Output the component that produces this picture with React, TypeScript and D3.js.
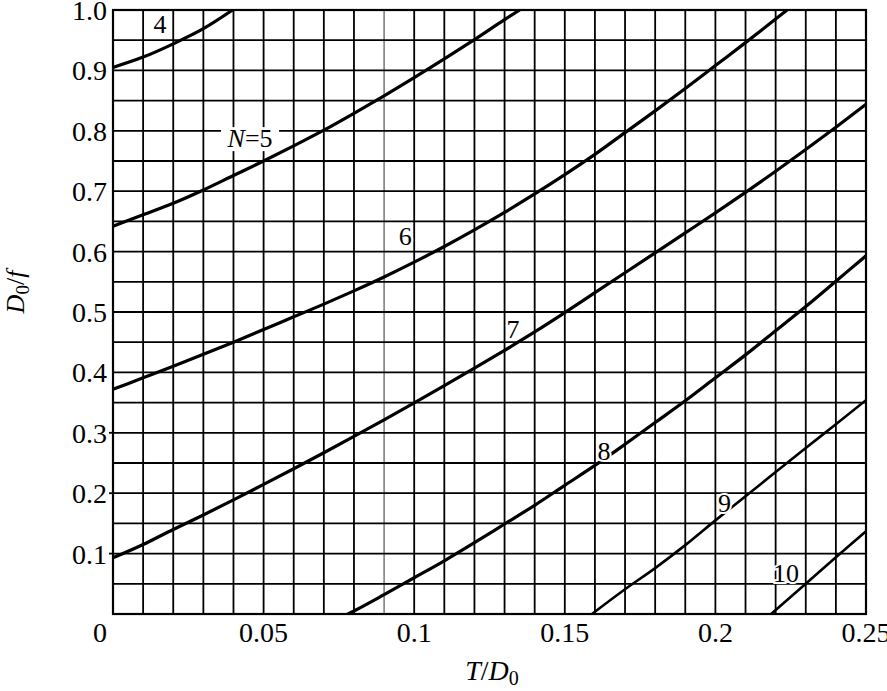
import React from "react";
import * as d3 from "d3";

const W = 887;
const H = 691;

const xTickValues = [0, 0.05, 0.1, 0.15, 0.2, 0.25];
const xTickLabels = ["0", "0.05", "0.1", "0.15", "0.2", "0.25"];
const yTickValues = [0.1, 0.2, 0.3, 0.4, 0.5, 0.6, 0.7, 0.8, 0.9, 1.0];
const yTickLabels = ["0.1", "0.2", "0.3", "0.4", "0.5", "0.6", "0.7", "0.8", "0.9", "1.0"];

const curve4X = [0, 0.01, 0.02, 0.03, 0.0397];
const curve4Y = [0.905, 0.922, 0.944, 0.969, 1.0];

const curve5X = [0, 0.01, 0.02, 0.03, 0.04, 0.05, 0.06, 0.07, 0.08, 0.09, 0.1, 0.11, 0.12, 0.13, 0.135];
const curve5Y = [0.642, 0.661, 0.68, 0.702, 0.726, 0.75, 0.775, 0.801, 0.829, 0.858, 0.888, 0.919, 0.951, 0.984, 1.0];

const curve6X = [0, 0.01, 0.02, 0.03, 0.04, 0.05, 0.06, 0.07, 0.08, 0.09, 0.1, 0.11, 0.12, 0.13, 0.14, 0.15, 0.16, 0.17, 0.18, 0.19, 0.2, 0.21, 0.22, 0.2238];
const curve6Y = [0.372, 0.391, 0.41, 0.43, 0.45, 0.471, 0.492, 0.513, 0.535, 0.558, 0.5825, 0.6085, 0.636, 0.665, 0.6955, 0.7275, 0.761, 0.797, 0.833, 0.87, 0.908, 0.946, 0.985, 1.0];

const curve7X = [0, 0.01, 0.02, 0.03, 0.04, 0.05, 0.06, 0.07, 0.08, 0.09, 0.1, 0.11, 0.12, 0.13, 0.14, 0.15, 0.16, 0.17, 0.18, 0.19, 0.2, 0.21, 0.22, 0.23, 0.24, 0.25];
const curve7Y = [0.093, 0.115, 0.14, 0.164, 0.189, 0.2145, 0.2405, 0.267, 0.294, 0.3215, 0.3495, 0.378, 0.407, 0.4365, 0.467, 0.499, 0.532, 0.565, 0.598, 0.631, 0.664, 0.698, 0.733, 0.769, 0.806, 0.844];

const curve8X = [0.078, 0.08, 0.09, 0.1, 0.11, 0.12, 0.13, 0.14, 0.15, 0.16, 0.17, 0.18, 0.19, 0.2, 0.21, 0.22, 0.23, 0.24, 0.25];
const curve8Y = [0, 0.005, 0.032, 0.06, 0.088, 0.118, 0.149, 0.18, 0.213, 0.246, 0.281, 0.317, 0.353, 0.391, 0.429, 0.469, 0.509, 0.551, 0.593];

const curve9X = [0.159, 0.17, 0.18, 0.19, 0.2, 0.21, 0.22, 0.23, 0.24, 0.25];
const curve9Y = [0, 0.041, 0.076, 0.114, 0.155, 0.195, 0.235, 0.275, 0.314, 0.354];

const curve10X = [0.2185, 0.23, 0.24, 0.25];
const curve10Y = [0, 0.05, 0.094, 0.137];

const curveNames = ["4", "5", "6", "7", "8", "9", "10"];
const curveXs = [curve4X, curve5X, curve6X, curve7X, curve8X, curve9X, curve10X];
const curveYs = [curve4Y, curve5Y, curve6Y, curve7Y, curve8Y, curve9Y, curve10Y];

// label anchor positions (data coords: x center, y baseline)
const labelTexts = ["4", "N=5", "6", "7", "8", "9", "10"];
const labelX = [0.0156, 0.0455, 0.097, 0.1328, 0.163, 0.203, 0.2234];
const labelY = [0.962, 0.773, 0.611, 0.457, 0.255, 0.169, 0.053];

const gridXValues = d3.range(0, 26).map((i) => i / 100);
const gridYValues = d3.range(0, 21).map((i) => i / 20);

export default function App() {
  const x = d3.scaleLinear().domain([0, 0.25]).range([113, 866]);
  const y = d3.scaleLinear().domain([0, 1]).range([614, 10]);
  const font = "'Liberation Serif', 'Times New Roman', serif";

  const line = d3
    .line<[number, number]>()
    .x((d) => x(d[0]))
    .y((d) => y(d[1]))
    .curve(d3.curveMonotoneX);

  return (
    <svg
      width={W}
      height={H}
      viewBox={`0 0 ${W} ${H}`}
      style={{ position: "absolute", left: 0, top: 0, background: "#fff" }}
    >
      <defs>
        <clipPath id="plotClip">
          <rect x={x(0)} y={y(1)} width={x(0.25) - x(0)} height={y(0) - y(1)} />
        </clipPath>
      </defs>
      <rect width={W} height={H} fill="#fff" />
      {/* grid */}
      <g>
        {gridXValues.map((v, i) => (
          <line
            key={"gx" + i}
            x1={x(v)}
            x2={x(v)}
            y1={y(0)}
            y2={y(1)}
            stroke={i === 9 ? "#555" : "#000"}
            strokeWidth={i === 9 ? 1.2 : 1.8}
          />
        ))}
        {gridYValues.map((v, i) => (
          <line
            key={"gy" + i}
            x1={x(0)}
            x2={x(0.25)}
            y1={y(v)}
            y2={y(v)}
            stroke="#000"
            strokeWidth={1.8}
          />
        ))}
        {[0.1, 0.2, 0.3].map((v, i) => (
          <line key={"tk" + i} x1={x(0) - 4} x2={x(0)} y1={y(v)} y2={y(v)} stroke="#000" strokeWidth={1.8} />
        ))}
        <rect
          x={x(0)}
          y={y(1)}
          width={x(0.25) - x(0)}
          height={y(0) - y(1)}
          fill="none"
          stroke="#000"
          strokeWidth={2.2}
        />
      </g>
      {/* curves */}
      <g clipPath="url(#plotClip)">
        {curveNames.map((name, ci) => {
          const pts = curveXs[ci].map((xv, j) => [xv, curveYs[ci][j]] as [number, number]);
          return (
            <path
              key={"c" + name}
              d={line(pts) || ""}
              fill="none"
              stroke="#000"
              strokeWidth={ci >= 5 ? 2.6 : 3.2}
              strokeLinecap="round"
            />
          );
        })}
      </g>
      {/* curve labels */}
      <g fontFamily={font} fontSize={26} textAnchor="middle">
        {labelTexts.map((t, i) => {
          if (t === "N=5") {
            return (
              <g key={"l" + i}>
                <rect x={x(labelX[i]) - 29} y={y(labelY[i]) - 20} width={58} height={24} fill="#fff" />
                <text x={x(labelX[i])} y={y(labelY[i])}>
                  <tspan fontStyle="italic">N</tspan>
                  <tspan>=5</tspan>
                </text>
              </g>
            );
          }
          return (
            <text
              key={"l" + i}
              x={x(labelX[i])}
              y={y(labelY[i])}
              stroke="#fff"
              strokeWidth={4}
              paintOrder="stroke"
              fill="#000"
            >
              {t}
            </text>
          );
        })}
      </g>
      {/* y tick labels */}
      <g fontFamily={font} fontSize={28} textAnchor="end">
        {yTickValues.map((v, i) => (
          <text key={"yt" + i} x={107} y={y(v) + 10}>
            {yTickLabels[i]}
          </text>
        ))}
      </g>
      {/* x tick labels */}
      <g fontFamily={font} fontSize={28} textAnchor="middle">
        {xTickValues.map((v, i) => (
          <text key={"xt" + i} x={i === 0 ? x(v) - 13 : x(v)} y={642}>
            {xTickLabels[i]}
          </text>
        ))}
      </g>
      {/* axis titles */}
      <text x={492} y={680} fontFamily={font} fontSize={28} textAnchor="middle">
        <tspan fontStyle="italic">T</tspan>
        <tspan>/</tspan>
        <tspan fontStyle="italic">D</tspan>
        <tspan fontSize={20} dy={5}>0</tspan>
      </text>
      <text
        transform="translate(24,292) rotate(-90)"
        fontFamily={font}
        fontSize={26}
        textAnchor="middle"
      >
        <tspan fontStyle="italic">D</tspan>
        <tspan fontSize={19} dy={5}>0</tspan>
        <tspan dy={-5}>/</tspan>
        <tspan fontStyle="italic">f</tspan>
      </text>
    </svg>
  );
}
